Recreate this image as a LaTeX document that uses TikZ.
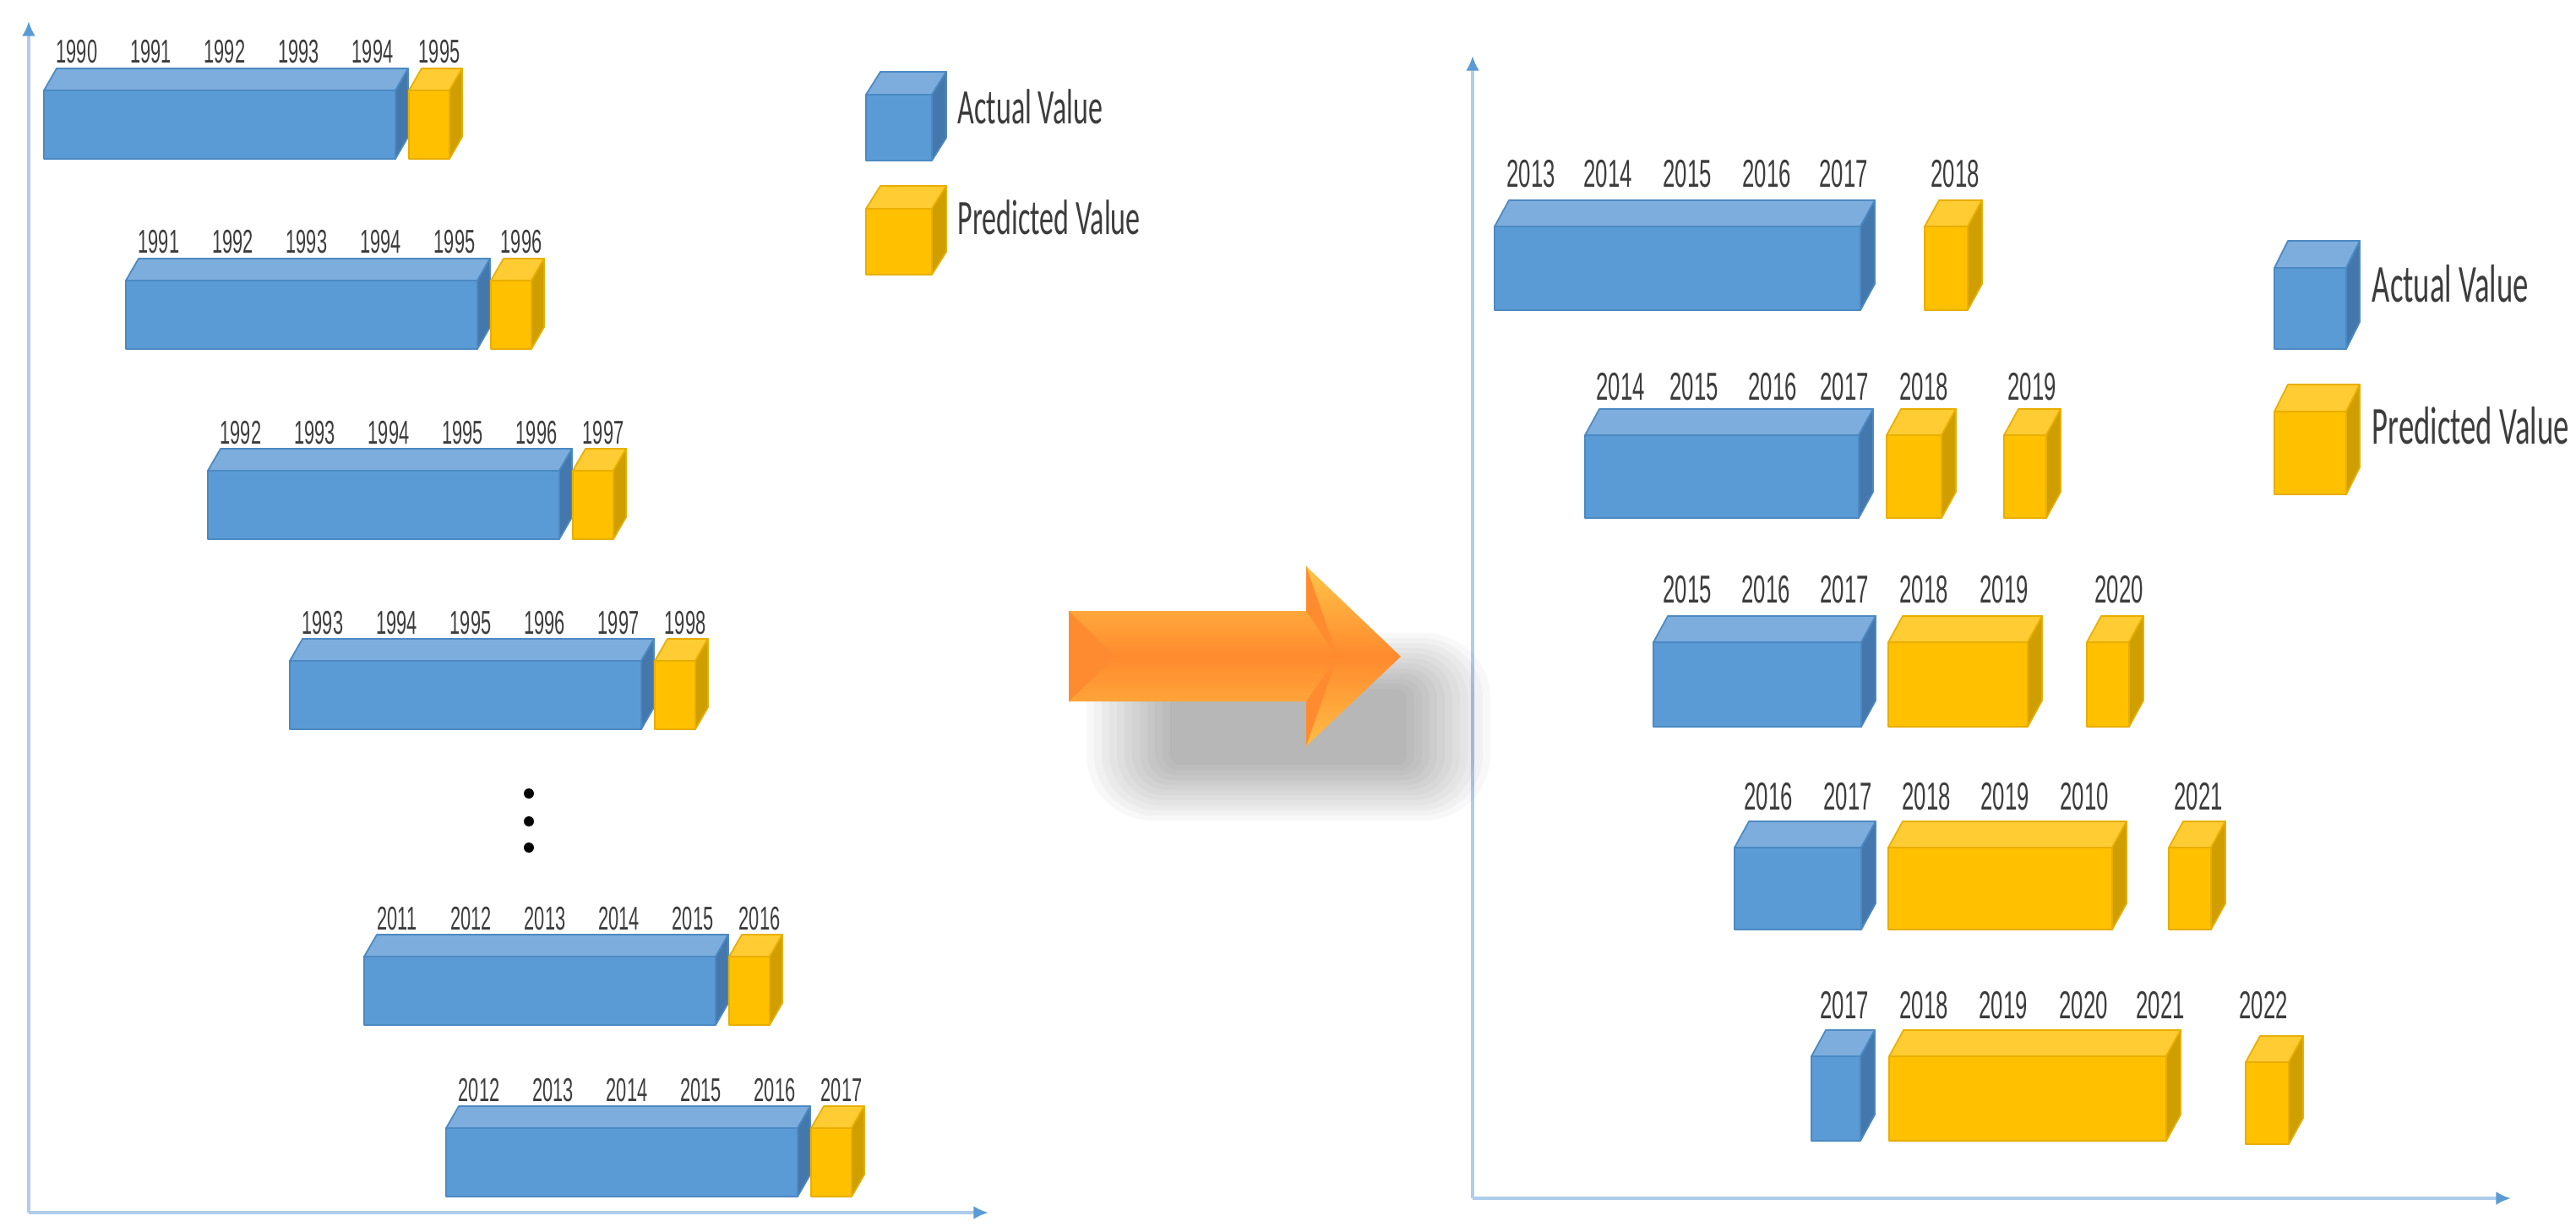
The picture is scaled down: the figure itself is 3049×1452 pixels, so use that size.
\documentclass[tikz,border=0pt]{standalone}
\usepackage{fontspec}
\usetikzlibrary{arrows.meta}
\newfontfamily\yearfont[FakeStretch=0.56]{Liberation Sans}
\newfontfamily\legfont[FakeStretch=0.58]{Carlito}
\definecolor{bfront}{HTML}{5B9BD5}
\definecolor{btop}{HTML}{7CADDD}
\definecolor{bside}{HTML}{4478AC}
\definecolor{bedge}{HTML}{4C89C2}
\definecolor{yfront}{HTML}{FFC000}
\definecolor{ytop}{HTML}{FFCC33}
\definecolor{yside}{HTML}{CF9E00}
\definecolor{yedge}{HTML}{E8AE00}
\definecolor{labgray}{HTML}{3C3C3C}
\definecolor{axisline}{HTML}{ADCDEB}
\definecolor{axistip}{HTML}{5B9BD5}
\definecolor{arTop}{HTML}{FFC548}
\definecolor{arMid}{HTML}{FF8A2E}
\definecolor{arBot}{HTML}{FFBE45}
\definecolor{arBevel}{HTML}{FF8B30}
\tikzset{
  facebase/.style={line width=0.5pt,line join=round},
  bluefront/.style={facebase,fill=bfront,draw=bedge},
  bluetop/.style={facebase,fill=btop,draw=bedge},
  blueside/.style={facebase,fill=bside,draw=bedge},
  yellowfront/.style={facebase,fill=yfront,draw=yedge},
  yellowtop/.style={facebase,fill=ytop,draw=yedge},
  yellowside/.style={facebase,fill=yside,draw=yedge},
  yearL/.style={font=\yearfont\fontsize{11.1}{13}\selectfont,text=labgray,inner sep=0pt,anchor=base},
  yearR/.style={font=\yearfont\fontsize{13.1}{15}\selectfont,text=labgray,inner sep=0pt,anchor=base},
  legL/.style={font=\legfont\fontsize{16.7}{20}\selectfont,text=labgray,inner sep=0pt,anchor=base west},
  legR/.style={font=\legfont\fontsize{18}{22}\selectfont,text=labgray,inner sep=0pt,anchor=base west},
  axisarrow/.style={draw=axisline,line width=1.3pt,-{Latex[length=5pt,width=4.5pt,color=axistip]}},
  dotmark/.style={fill=black,circle,inner sep=0pt,minimum size=3.4pt},
  bevel/.style={fill=arBevel},
}
\newcommand\cuboid[8]{%
  \coordinate (#1) at (#2,#3);
  \path[#8top] (#2,#3) -- ++(#6,-#7) -- ++(#4,0) -- ++(-#6,#7) -- cycle;
  \path[#8side] (#2+#4,#3) -- ++(#6,-#7) -- ++(0,#5) -- ++(-#6,#7) -- cycle;
  \path[#8front] (#2,#3) rectangle ++(#4,#5);
}
\newcommand\leftrow[4]{%
  \cuboid{#1b}{#2}{#3}{416}{81}{15}{26}{blue}
  \cuboid{#1y}{#2+432}{#3}{48}{81}{15}{26}{yellow}
  \foreach \k in {0,...,4}{%
    \pgfmathtruncatemacro\yr{#4+\k}
    \node[yearL] (#1l\k) at (#2+39+87.5*\k,#3-32) {\yr};
  }
  \pgfmathtruncatemacro\yr{#4+5}
  \node[yearL] (#1l5) at (#2+468,#3-32) {\yr};
}
\begin{document}
\begin{tikzpicture}[x=0.01cm,y=-0.01cm]
\useasboundingbox (0,0) rectangle (3049,1452);
% axes
\coordinate (LO) at (34,1435); \coordinate (LY) at (34,25); \coordinate (LX) at (1170,1435);
\coordinate (RO) at (1743,1418); \coordinate (RY) at (1743,66); \coordinate (RX) at (2972,1418);
\draw[axisarrow] (LO) -- (LY);
\draw[axisarrow] (LO) -- (LX);
\draw[axisarrow] (RO) -- (RY);
\draw[axisarrow] (RO) -- (RX);
% left rows
\leftrow{L1}{52}{107}{1990}
\leftrow{L2}{149}{332}{1991}
\leftrow{L3}{246}{557}{1992}
\leftrow{L4}{343}{782}{1993}
\leftrow{L6}{431}{1132}{2011}
\leftrow{L7}{528}{1335}{2012}
\node[dotmark] (d1) at (626,939) {};
\node[dotmark] (d2) at (626,972) {};
\node[dotmark] (d3) at (626,1003) {};
% left legend
\cuboid{LegLb}{1025}{112}{78}{78}{17}{27}{blue}
\cuboid{LegLy}{1025}{247}{78}{78}{17}{27}{yellow}
\node[legL] (legLa) at (1133,147) {Actual Value};
\node[legL] (legLp) at (1133,278) {Predicted Value};
% arrow shadow
\foreach \i in {0,...,11}{%
  \pgfmathsetmacro\rc{(12+6*\i)*0.2845}
  \fill[black,opacity=0.028,rounded corners=\rc pt] (1385-9*\i,815-6*\i) rectangle (1665+9*\i,905+6*\i);
}
% arrow
\path[top color=arTop,bottom color=arBot,middle color=arMid]
  (1265,723) -- (1546,723) -- (1546,670) -- (1658,777) -- (1546,883) -- (1546,830) -- (1265,830) -- cycle;
\path[bevel] (1265,723) -- (1320,777) -- (1265,830) -- cycle;
\path[bevel] (1546,670) -- (1583,777) -- (1546,723) -- cycle;
\path[bevel] (1546,883) -- (1583,777) -- (1546,830) -- cycle;
% right rows
\cuboid{R1b}{1769}{268}{433}{99}{17}{31}{blue}
\cuboid{R1y}{2278}{268}{51}{99}{17}{31}{yellow}
\foreach \x/\t in {1812/2013,1903/2014,1997/2015,2091/2016,2182/2017,2314/2018}
  \node[yearR] (R1-\t) at (\x,222) {\t};
\cuboid{R2b}{1876}{515}{324}{98}{17}{31}{blue}
\cuboid{R2y}{2233}{515}{65}{98}{17}{31}{yellow}
\cuboid{R2z}{2372}{515}{50}{98}{17}{31}{yellow}
\foreach \x/\t in {1918/2014,2005/2015,2098/2016,2183/2017,2277/2018,2405/2019}
  \node[yearR] (R2-\t) at (\x,473) {\t};
\cuboid{R3b}{1957}{760}{246}{100}{17}{31}{blue}
\cuboid{R3y}{2235}{760}{165}{100}{17}{31}{yellow}
\cuboid{R3z}{2470}{760}{50}{100}{17}{31}{yellow}
\foreach \x/\t in {1997/2015,2090/2016,2183/2017,2277/2018,2372/2019,2508/2020}
  \node[yearR] (R3-\t) at (\x,713) {\t};
\cuboid{R4b}{2053}{1003}{150}{97}{17}{31}{blue}
\cuboid{R4y}{2235}{1003}{265}{97}{17}{31}{yellow}
\cuboid{R4z}{2567}{1003}{50}{97}{17}{31}{yellow}
\foreach \x/\t in {2093/2016,2187/2017,2280/2018,2373/2019,2467/2010,2602/2021}
  \node[yearR] (R4-\t) at (\x,958) {\t};
\cuboid{R5b}{2144}{1250}{58}{100}{17}{31}{blue}
\cuboid{R5y}{2236}{1250}{328}{100}{17}{31}{yellow}
\cuboid{R5z}{2658}{1257}{51}{97}{17}{31}{yellow}
\foreach \x/\t in {2183/2017,2277/2018,2371/2019,2466/2020,2557/2021,2679/2022}
  \node[yearR] (R5-\t) at (\x,1205) {\t};
% right legend
\cuboid{LegRb}{2692}{317}{85}{96}{16}{32}{blue}
\cuboid{LegRy}{2692}{487}{85}{98}{16}{32}{yellow}
\node[legR] (legRa) at (2807,358) {Actual Value};
\node[legR] (legRp) at (2807,525) {Predicted Value};
\end{tikzpicture}
\end{document}
